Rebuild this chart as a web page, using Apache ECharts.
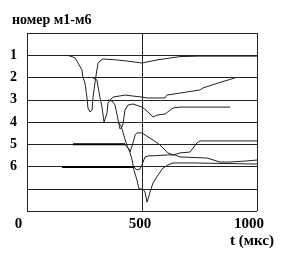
<!DOCTYPE html>
<html>
<head>
<meta charset="utf-8">
<script src="https://cdn.jsdelivr.net/npm/echarts@6/dist/echarts.min.js"></script>
<style>html,body{margin:0;padding:0;background:#fff}#c{width:294px;height:260px}</style>
</head>
<body>
<div id="c"></div>
<script>
var titleText = 'номер м1-м6';
var xName = 't (мкс)';
var xTickLabels = {0: '0', 500: '500', 1000: '1000'};
var yTickLabels = {1: '1', 2: '2', 3: '3', 4: '4', 5: '5', 6: '6'};

var curve1 = [[165,1.0],[187,1.03],[209,1.12],[222,1.35],[239,1.66],[243,1.98],[252,2.25],[261,2.92],[265,3.37],[274,3.55],[283,3.46],[287,2.88],[296,2.2],[304,1.66],[309,1.35],[317,1.26],[330,1.17],[391,1.21],[435,1.26],[500,1.35],[565,1.21],[665,1.06],[752,1.04],[1000,1.04]];
var curve2 = [[287,2.02],[304,2.11],[317,2.88],[326,3.33],[335,4.0],[339,4.04],[348,3.6],[352,3.15],[361,3.01],[374,2.88],[426,2.79],[500,2.88],[522,2.92],[600,2.92],[609,2.79],[665,2.7],[752,2.56],[765,2.47],[830,2.25],[904,2.02]];
var curve3 = [[352,3.01],[370,3.06],[383,3.24],[396,3.91],[404,4.31],[413,4.22],[417,4.13],[426,3.46],[439,3.24],[461,3.19],[500,3.33],[522,3.51],[548,3.78],[565,3.69],[600,3.64],[635,3.37],[665,3.33],[883,3.33]];
var curve4 = [[396,4.0],[409,4.18],[422,4.63],[435,5.08],[448,5.35],[452,5.3],[461,4.94],[470,4.58],[478,4.49],[500,4.49],[526,4.67],[548,4.81],[578,5.03],[613,5.39],[635,5.48],[665,5.39],[709,5.35],[739,4.94],[752,4.85],[1000,4.85]];
var curve5 = [[426,5.0],[435,5.12],[443,5.21],[448,5.17],[457,5.71],[465,6.16],[478,6.61],[487,7.01],[504,7.01],[513,7.15],[522,7.6],[526,7.64],[530,7.33],[539,7.01],[548,6.74],[570,6.38],[591,6.07],[613,5.93],[635,5.84],[722,5.84],[1000,5.89]];
var curve6 = [[465,6.02],[478,6.16],[491,6.11],[500,5.93],[513,5.57],[526,5.53],[613,5.48],[643,5.48],[665,5.57],[783,5.62],[839,5.8],[883,5.8],[957,5.75],[1000,5.71]];
var base5 = [[200,5.0],[426,5.0]];
var base6 = [[152,6.02],[465,6.02]];

var font = '"Liberation Serif", "DejaVu Serif", serif';
function lineSeries(data, w, color) {
  return {type: 'line', data: data, showSymbol: false, symbol: 'none', silent: true,
    lineStyle: {width: w, color: color}, z: 3};
}
function rs(pad) {
  return {fontFamily: font, fontWeight: 'bold', fontSize: 15, color: '#000', padding: pad};
}
var chart = echarts.init(document.getElementById('c'), null, {renderer: 'canvas'});
chart.setOption({
  animation: false,
  backgroundColor: '#fff',
  grid: {left: 27, right: 37, top: 33, bottom: 49},
  xAxis: {type: 'value', min: 0, max: 1000, interval: 500,
    axisLine: {show: false}, axisTick: {show: false},
    splitLine: {show: true, lineStyle: {color: '#222', width: 1}},
    axisLabel: {margin: 6, color: '#000', fontFamily: font, fontWeight: 'bold', fontSize: 15,
      formatter: function (v) {
        var t = xTickLabels[v];
        if (t === undefined) return '';
        if (v === 0) return '{a|' + t + '}';
        if (v === 500) return '{b|' + t + '}';
        return '{c|' + t + '}';
      },
      rich: {a: rs([0, 17, 0, 0]), b: rs([0, 4, 0, 0]), c: rs([0, 16, 0, 0])}}},
  yAxis: {type: 'value', inverse: true, min: 0, max: 8, interval: 1,
    axisLine: {show: false}, axisTick: {show: false},
    splitLine: {show: true, lineStyle: {color: '#222', width: 1}},
    axisLabel: {margin: 10, color: '#000', fontFamily: font, fontWeight: 'bold', fontSize: 14,
      formatter: function (v) { var t = yTickLabels[v]; return t === undefined ? '' : t; }}},
  graphic: [
    {type: 'text', left: 12, top: 13,
      style: {text: titleText, fontFamily: font, fontWeight: 'bold', fontSize: 14, fill: '#000'}},
    {type: 'text', left: 230, top: 234,
      style: {text: xName, fontFamily: font, fontWeight: 'bold', fontSize: 15, fill: '#000'}}
  ],
  series: [
    lineSeries(curve1, 1, '#222'),
    lineSeries(curve2, 1, '#222'),
    lineSeries(curve3, 1, '#222'),
    lineSeries(curve4, 1, '#222'),
    lineSeries(curve5, 1, '#222'),
    lineSeries(curve6, 1, '#222'),
    lineSeries(base5, 2, '#000'),
    lineSeries(base6, 2, '#000')
  ]
});
</script>
</body>
</html>
